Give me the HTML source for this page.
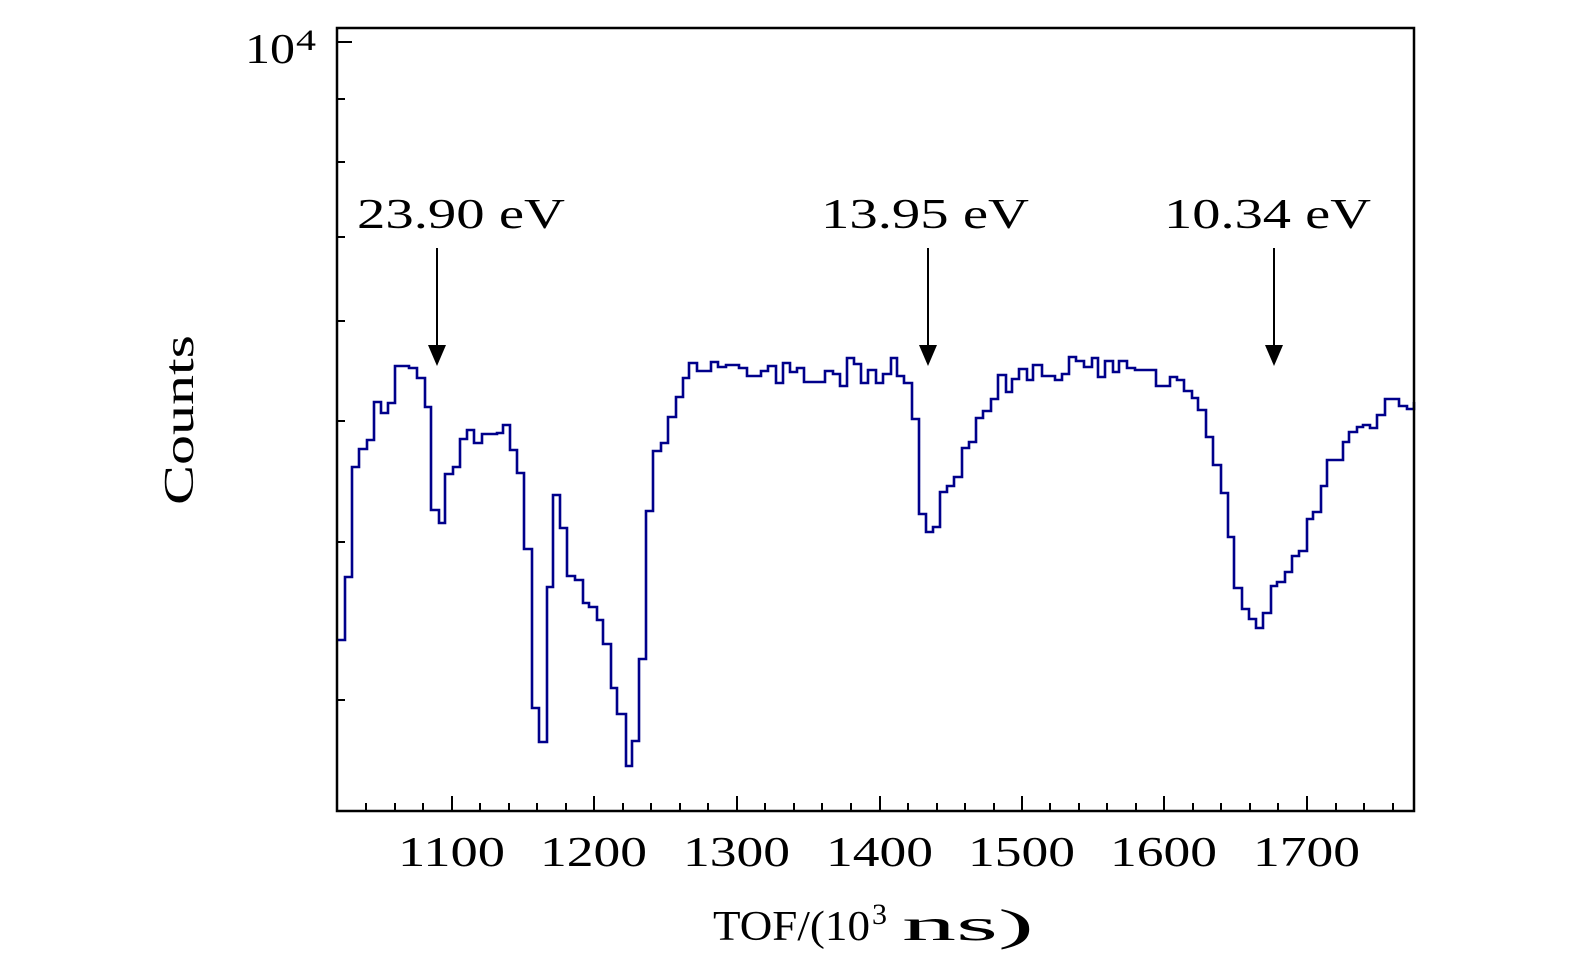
<!DOCTYPE html>
<html><head><style>html,body{margin:0;padding:0;background:#fff}svg{display:block}</style></head>
<body>
<svg width="1575" height="965" viewBox="0 0 1575 965" xmlns="http://www.w3.org/2000/svg" font-family="'Liberation Serif', serif">
<rect width="1575" height="965" fill="#fff"/>
<polyline fill="none" stroke="#00008b" stroke-width="2.6" stroke-linejoin="miter" points="
337,640 345,640 345,577 352,577 352,467 359,467 359,449 367,449 367,440 374,440 374,402 381,402 381,413 388,413 388,403 395,403 395,366 409,366 409,368 417,368 417,378 425,378 425,407 431,407 431,510 439,510 439,523 445,523 445,474 453,474 453,467 460,467 460,439 467,439 467,430 474,430 474,443 482,443 482,434 497,434 497,433 503,433 503,425 510,425 510,450 517,450 517,473 524,473 524,549 532,549 532,708 539,708 539,742 547,742 547,587 553,587 553,495 560,495 560,528 567,528 567,576 575,576 575,580 583,580 583,603 589,603 589,607 597,607 597,620 603,620 603,644 611,644 611,688 617,688 617,714 626,714 626,766 632,766 632,741 639,741 639,659 646,659 646,511 653,511 653,451 661,451 661,443 668,443 668,417 676,417 676,397 683,397 683,378 689,378 689,363 697,363 697,371 711,371 711,362 718,362 718,367 726,367 726,365 739,365 739,368 747,368 747,376 761,376 761,371 768,371 768,366 776,366 776,383 783,383 783,363 790,363 790,372 797,372 797,368 804,368 804,382 825,382 825,371 833,371 833,374 840,374 840,386 847,386 847,358 854,358 854,364 861,364 861,383 868,383 868,370 876,370 876,383 883,383 883,374 891,374 891,358 897,358 897,376 904,376 904,383 912,383 912,419 919,419 919,514 926,514 926,532 933,532 933,527 940,527 940,492 947,492 947,486 954,486 954,477 962,477 962,448 969,448 969,442 976,442 976,418 983,418 983,411 991,411 991,399 998,399 998,375 1006,375 1006,392 1012,392 1012,379 1019,379 1019,369 1027,369 1027,380 1033,380 1033,365 1042,365 1042,376 1055,376 1055,380 1062,380 1062,374 1069,374 1069,357 1076,357 1076,361 1084,361 1084,367 1092,367 1092,358 1098,358 1098,377 1105,377 1105,361 1113,361 1113,372 1119,372 1119,361 1127,361 1127,368 1135,368 1135,370 1156,370 1156,386 1170,386 1170,377 1177,377 1177,380 1184,380 1184,391 1192,391 1192,398 1198,398 1198,410 1206,410 1206,437 1213,437 1213,465 1221,465 1221,493 1228,493 1228,537 1234,537 1234,588 1242,588 1242,609 1249,609 1249,619 1256,619 1256,628 1263,628 1263,613 1271,613 1271,586 1277,586 1277,582 1285,582 1285,572 1292,572 1292,556 1299,556 1299,551 1307,551 1307,519 1313,519 1313,512 1321,512 1321,486 1327,486 1327,460 1343,460 1343,442 1349,442 1349,432 1357,432 1357,427 1363,427 1363,425 1370,425 1370,428 1377,428 1377,415 1385,415 1385,399 1399,399 1399,406 1407,406 1407,409 1414,409 1414,402"/>
<rect x="337" y="28" width="1077" height="783" fill="none" stroke="#000" stroke-width="2.5"/>
<g stroke="#000" stroke-width="2">
<line x1="337" y1="42" x2="352" y2="42"/>
<line x1="337" y1="99" x2="345" y2="99"/>
<line x1="337" y1="162" x2="345" y2="162"/>
<line x1="337" y1="237" x2="345" y2="237"/>
<line x1="337" y1="321" x2="345" y2="321"/>
<line x1="337" y1="421" x2="345" y2="421"/>
<line x1="337" y1="542" x2="345" y2="542"/>
<line x1="337" y1="700" x2="345" y2="700"/>
<line x1="452" y1="811" x2="452" y2="796"/><line x1="594" y1="811" x2="594" y2="796"/><line x1="737" y1="811" x2="737" y2="796"/><line x1="880" y1="811" x2="880" y2="796"/><line x1="1022" y1="811" x2="1022" y2="796"/><line x1="1164" y1="811" x2="1164" y2="796"/><line x1="1307" y1="811" x2="1307" y2="796"/>
<line x1="366" y1="811" x2="366" y2="803"/><line x1="395" y1="811" x2="395" y2="803"/><line x1="423" y1="811" x2="423" y2="803"/><line x1="480" y1="811" x2="480" y2="803"/><line x1="509" y1="811" x2="509" y2="803"/><line x1="537" y1="811" x2="537" y2="803"/><line x1="566" y1="811" x2="566" y2="803"/><line x1="623" y1="811" x2="623" y2="803"/><line x1="651" y1="811" x2="651" y2="803"/><line x1="680" y1="811" x2="680" y2="803"/><line x1="708" y1="811" x2="708" y2="803"/><line x1="765" y1="811" x2="765" y2="803"/><line x1="794" y1="811" x2="794" y2="803"/><line x1="822" y1="811" x2="822" y2="803"/><line x1="851" y1="811" x2="851" y2="803"/><line x1="908" y1="811" x2="908" y2="803"/><line x1="937" y1="811" x2="937" y2="803"/><line x1="965" y1="811" x2="965" y2="803"/><line x1="994" y1="811" x2="994" y2="803"/><line x1="1050" y1="811" x2="1050" y2="803"/><line x1="1079" y1="811" x2="1079" y2="803"/><line x1="1107" y1="811" x2="1107" y2="803"/><line x1="1136" y1="811" x2="1136" y2="803"/><line x1="1193" y1="811" x2="1193" y2="803"/><line x1="1221" y1="811" x2="1221" y2="803"/><line x1="1250" y1="811" x2="1250" y2="803"/><line x1="1278" y1="811" x2="1278" y2="803"/><line x1="1336" y1="811" x2="1336" y2="803"/><line x1="1364" y1="811" x2="1364" y2="803"/><line x1="1393" y1="811" x2="1393" y2="803"/>
<line x1="437" y1="248" x2="437" y2="350"/>
<line x1="928" y1="248" x2="928" y2="350"/>
<line x1="1274" y1="248" x2="1274" y2="350"/>
</g>
<polygon points="428,345 446,345 437,366" fill="#000"/>
<polygon points="919,345 937,345 928,366" fill="#000"/>
<polygon points="1265,345 1283,345 1274,366" fill="#000"/>
<g font-size="42" fill="#000">
<text x="245" y="63" textLength="50" lengthAdjust="spacingAndGlyphs">10</text><text x="296" y="50" font-size="30" textLength="20" lengthAdjust="spacingAndGlyphs">4</text>
<text x="398" y="866" textLength="107" lengthAdjust="spacingAndGlyphs">1100</text>
<text x="540" y="866" textLength="107" lengthAdjust="spacingAndGlyphs">1200</text>
<text x="683" y="866" textLength="107" lengthAdjust="spacingAndGlyphs">1300</text>
<text x="826" y="866" textLength="107" lengthAdjust="spacingAndGlyphs">1400</text>
<text x="968" y="866" textLength="107" lengthAdjust="spacingAndGlyphs">1500</text>
<text x="1110" y="866" textLength="107" lengthAdjust="spacingAndGlyphs">1600</text>
<text x="1253" y="866" textLength="107" lengthAdjust="spacingAndGlyphs">1700</text>
<text x="713" y="940" textLength="157" lengthAdjust="spacingAndGlyphs">TOF/(10</text><text x="872" y="924" font-size="30">3</text><text x="902" y="940" font-size="44" textLength="132" lengthAdjust="spacingAndGlyphs">ns)</text>
<text transform="translate(193,505) rotate(-90)" textLength="170" lengthAdjust="spacingAndGlyphs">Counts</text>
<text x="357" y="228" textLength="208" lengthAdjust="spacingAndGlyphs">23.90 eV</text>
<text x="821" y="228" textLength="208" lengthAdjust="spacingAndGlyphs">13.95 eV</text>
<text x="1164" y="228" textLength="207" lengthAdjust="spacingAndGlyphs">10.34 eV</text>
</g>
</svg>
</body></html>
